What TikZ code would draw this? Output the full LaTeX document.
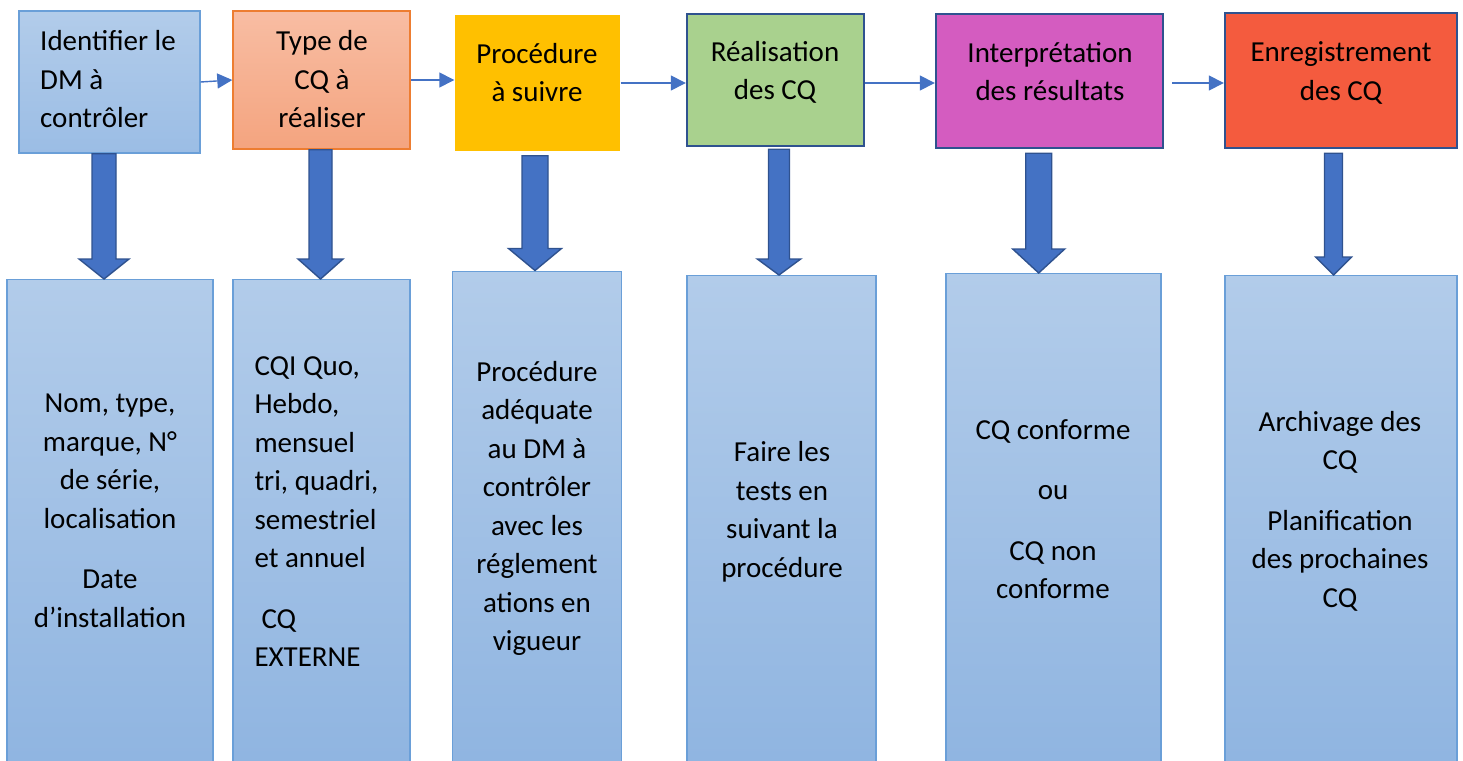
\documentclass[tikz,border=0pt]{standalone}
\usepackage{fontspec}
\setmainfont{Carlito}
\usepackage{tikz}
\usetikzlibrary{arrows.meta,calc}
\definecolor{cqblue}{HTML}{4472C4}
\definecolor{cqnavy}{HTML}{2F528F}
\definecolor{cqsky}{HTML}{6A9FD8}
\definecolor{cqlighttop}{HTML}{B2CCEA}
\definecolor{cqlightmid}{HTML}{9BBDE5}
\definecolor{cqlightbot}{HTML}{8DB3E0}
\definecolor{cqsalmontop}{HTML}{F8BDA3}
\definecolor{cqsalmonbot}{HTML}{F4A47F}
\definecolor{cqorange}{HTML}{ED7D31}
\definecolor{cqgold}{HTML}{FFC000}
\definecolor{cqgreen}{HTML}{A9D18E}
\definecolor{cqpink}{HTML}{D45CC0}
\definecolor{cqred}{HTML}{F45B3E}
\tikzset{
  cq step/.style={rectangle,inner sep=0pt,line width=1.4pt},
  cq framed/.style={cq step,draw=cqnavy,line width=2.4pt},
  cq detail/.style={rectangle,inner sep=0pt,anchor=north,draw=cqsky,line width=1.3pt,top color=cqlighttop,bottom color=cqlightbot},
  cq text/.style={inner sep=0pt,font=\fontsize{29}{38.5}\selectfont},
  cq flow/.style={cqblue,line width=1.4pt,-{Triangle[length=15pt,width=15pt]}},
  cq down/.style={fill=cqblue,draw=cqnavy,line width=1.4pt,line join=miter}
}
\begin{document}
\begin{tikzpicture}[x=1pt,y=-1pt]
  \useasboundingbox (0,0) rectangle (1463,760);
  \node[cq step,draw=cqsky,top color=cqlighttop,bottom color=cqlightmid,minimum width=181pt,minimum height=142pt] (ident) at (109.5,82) {};
  \node[cq step,draw=cqorange,top color=cqsalmontop,bottom color=cqsalmonbot,minimum width=177pt,minimum height=138pt] (type) at (321.5,80) {};
  \node[cq step,fill=cqgold,minimum width=165pt,minimum height=136pt] (proc) at (537.5,83) {};
  \node[cq framed,fill=cqgreen,minimum width=177pt,minimum height=132pt] (real) at (775.5,80) {};
  \node[cq framed,fill=cqpink,minimum width=227pt,minimum height=134pt] (interp) at (1049.5,81) {};
  \node[cq framed,fill=cqred,minimum width=232pt,minimum height=135pt] (enreg) at (1341,80.5) {};

  \node[cq text,anchor=west,align=left] (ident-t) at (40,79.1) {Identifier le\\DM à\\contrôler};
  \node[cq text,align=center] (type-t) at (322,79.1) {Type de\\CQ à\\réaliser};
  \node[cq text,align=center] (proc-t) at (537,72.7) {Procédure\\à suivre};
  \node[cq text,align=center] (real-t) at (775,72.1) {Réalisation\\des CQ};
  \node[cq text,align=center] (interp-t) at (1050,71.6) {Interprétation\\des résultats};
  \node[cq text,align=center] (enreg-t) at (1341,73.1) {Enregistrement\\des CQ};

  \draw[cq flow] (ident.east) -- (type.west);
  \draw[cq flow] (type.east) -- (type.east -| proc.west);
  \draw[cq flow] (proc.east) -- (proc.east -| real.west);
  \draw[cq flow] ([yshift=-3pt]real.east) -- ([yshift=-3pt]real.east -| interp.west);
  \draw[cq flow,shorten <=8pt] ([yshift=-2pt]interp.east) -- ([yshift=-2pt]interp.east -| enreg.west);

  \node[cq detail,minimum width=206pt,minimum height=520pt] (ident-d) at (110,279) {};
  \node[cq detail,minimum width=177pt,minimum height=520pt] (type-d) at (321.5,279) {};
  \node[cq detail,minimum width=169pt,minimum height=530pt] (proc-d) at (537,270.5) {};
  \node[cq detail,minimum width=189pt,minimum height=525pt] (real-d) at (781.5,275) {};
  \node[cq detail,minimum width=215pt,minimum height=527pt] (interp-d) at (1053.5,273) {};
  \node[cq detail,minimum width=232pt,minimum height=525pt] (enreg-d) at (1341,275) {};

  \foreach \a/\b/\x/\sw/\hw/\hl/\g in {ident/ident-d/104/12/25/20/0,type/type-d/320.5/11.5/22.5/20/0,proc/proc-d/535/13/26.5/22/4,real/real-d/779/10.5/21.7/16/2,interp/interp-d/1038.7/13/26/24/4,enreg/enreg-d/1333.5/9/18/18/4} {
    \draw[cq down] ($(\a.south -| \x,0)+(-\sw,\g)$) -- ($(\b.north -| \x,0)+(-\sw,-\hl)$) -- ($(\b.north -| \x,0)+(-\hw,-\hl)$) -- (\b.north -| \x,0) -- ($(\b.north -| \x,0)+(\hw,-\hl)$) -- ($(\b.north -| \x,0)+(\sw,-\hl)$) -- ($(\a.south -| \x,0)+(\sw,\g)$) -- cycle;
  }

  \node[cq text,align=center] (ident-dt) at (110,511) {Nom, type,\\marque, N°\\de série,\\localisation\\[22pt]Date\\d’installation};
  \node[cq text,anchor=west,align=left] (type-dt) at (254.3,511.5) {CQI Quo,\\Hebdo,\\mensuel\\tri, quadri,\\semestriel\\et annuel\\[22pt]\hspace*{7pt}CQ\\EXTERNE};
  \node[cq text,align=center] (proc-dt) at (537,508.6) {Procédure\\adéquate\\au DM à\\contrôler\\avec les\\réglement\\ations en\\vigueur};
  \node[cq text,align=center] (real-dt) at (782,511.8) {Faire les\\tests en\\suivant la\\procédure};
  \node[cq text,align=center] (interp-dt) at (1053,509) {CQ conforme\\[22pt]ou\\[22pt]CQ non\\conforme};
  \node[cq text,align=center] (enreg-dt) at (1340,511.3) {Archivage des\\CQ\\[22pt]Planification\\des prochaines\\CQ};
\end{tikzpicture}
\end{document}
